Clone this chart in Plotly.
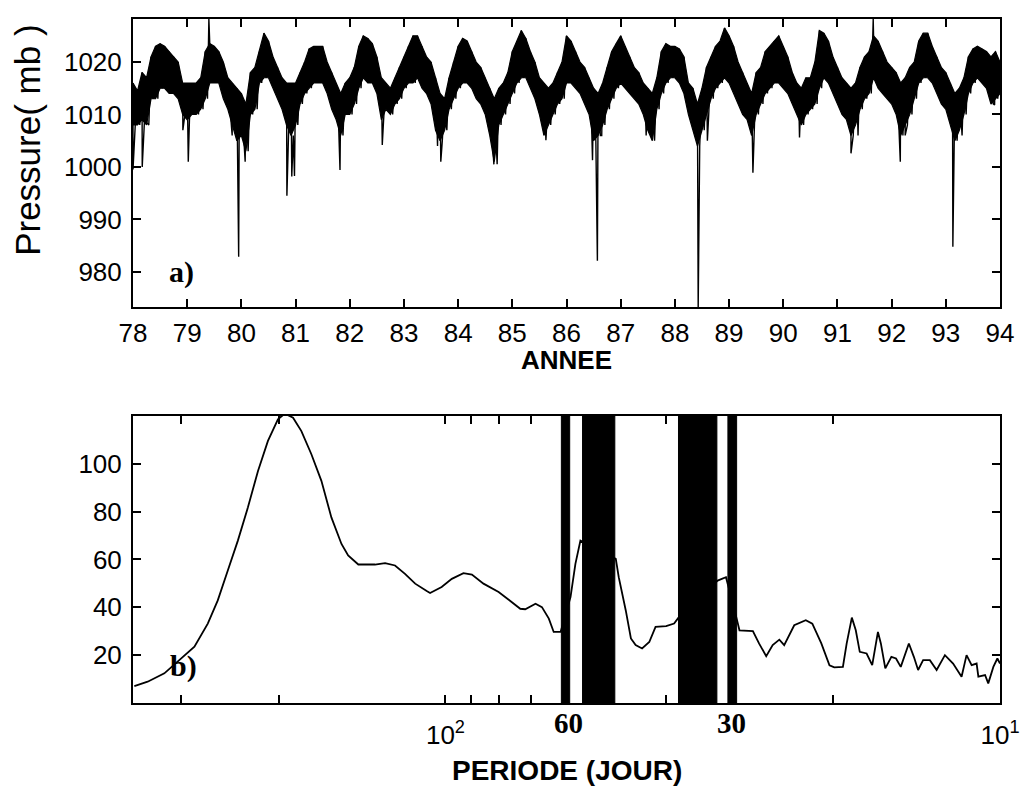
import math
import plotly.graph_objects as go

# ---------------- (a) daily pressure, read as monthly upper / lower envelope (mb) ----------------
upper_78 = [1016, 1014.5, 1018, 1017, 1021, 1023, 1023.5, 1023, 1022, 1021, 1020, 1016]
lower_78 = [1008, 1008, 1009, 1008, 1013, 1013, 1015, 1015, 1014, 1014, 1013, 1010]
upper_79 = [1016, 1016, 1016, 1017, 1022, 1023.5, 1023, 1022, 1020, 1017, 1016, 1015]
lower_79 = [1009, 1010, 1010, 1011, 1013, 1016, 1016, 1016, 1013, 1011, 1008, 1005]
upper_80 = [1014, 1012, 1018, 1019, 1022, 1025.5, 1024, 1021, 1019, 1017, 1016, 1016]
lower_80 = [1006, 1003, 1010, 1011, 1016, 1017, 1017, 1015, 1013, 1011, 1008, 1006]
upper_81 = [1016, 1018, 1020, 1022.5, 1023, 1023, 1023, 1020, 1018, 1016, 1014, 1016]
lower_81 = [1008, 1012, 1014, 1015, 1016, 1016, 1016, 1014, 1011, 1009, 1006, 1010]
upper_82 = [1017, 1019, 1023, 1025, 1024.5, 1023.5, 1021, 1017, 1016, 1015, 1017, 1019]
lower_82 = [1010, 1012, 1015, 1017, 1016, 1016, 1014, 1009, 1011, 1010, 1012, 1013]
upper_83 = [1021, 1023, 1025, 1025, 1023, 1021, 1020, 1017, 1014, 1013, 1017, 1020]
lower_83 = [1015, 1016, 1016, 1017, 1015, 1014, 1012, 1007, 1005, 1007, 1011, 1013]
upper_84 = [1023, 1024.5, 1024, 1022, 1020, 1019, 1017, 1015, 1013, 1015, 1016, 1018]
lower_84 = [1015, 1016, 1016, 1015, 1013, 1012, 1010, 1006, 1001, 1008, 1010, 1012]
upper_85 = [1022, 1024, 1026, 1024.5, 1022, 1020, 1017, 1016, 1015, 1016, 1018, 1020]
lower_85 = [1014, 1016, 1017, 1017, 1015, 1013, 1010, 1006, 1008, 1010, 1012, 1013]
upper_86 = [1025, 1024, 1022, 1020, 1019, 1017, 1015, 1014, 1016, 1019, 1022, 1023.5]
lower_86 = [1016, 1016, 1015, 1014, 1012, 1010, 1005, 1006, 1008, 1011, 1013, 1015]
upper_87 = [1025, 1023, 1021, 1019, 1018, 1016, 1015, 1014, 1017, 1022, 1023.5, 1023]
lower_87 = [1016, 1015, 1014, 1013, 1012, 1010, 1007, 1005, 1011, 1014, 1016, 1017]
upper_88 = [1023, 1022.5, 1021, 1016, 1015, 1012, 1015, 1019, 1021, 1023, 1024, 1026.5]
lower_88 = [1017, 1016, 1014, 1010, 1007, 1004, 1007, 1010, 1013, 1015, 1016, 1017]
upper_89 = [1025, 1023, 1020, 1018, 1016, 1014, 1018, 1019, 1022, 1023, 1024, 1025]
lower_89 = [1016, 1014, 1012, 1010, 1009, 1006, 1010, 1012, 1014, 1015, 1016, 1016]
upper_90 = [1023, 1021, 1018, 1016, 1015, 1017, 1017, 1020, 1026, 1025.5, 1024, 1021]
lower_90 = [1015, 1014, 1012, 1010, 1008, 1010, 1011, 1012, 1015, 1017, 1016, 1014]
upper_91 = [1019, 1017, 1016, 1015, 1016, 1019, 1021, 1022, 1025, 1024, 1022, 1020]
lower_91 = [1012, 1010, 1009, 1006, 1008, 1011, 1013, 1014, 1017, 1015, 1014, 1013]
upper_92 = [1019, 1018, 1016, 1017, 1019, 1020, 1024, 1025.5, 1025.5, 1023, 1021, 1019]
lower_92 = [1012, 1010, 1006, 1008, 1010, 1013, 1016, 1017, 1017, 1016, 1014, 1012]
upper_93 = [1018, 1016, 1014, 1015, 1017, 1021, 1022.5, 1023, 1022.5, 1022, 1021, 1022]
lower_93 = [1011, 1008, 1005, 1007, 1010, 1014, 1016, 1017, 1016, 1015, 1012, 1013]
upper_94 = [1020]
lower_94 = [1014]

# isolated spikes (year, pressure mb)
spike_years = [78.0, 78.17, 78.25, 78.92, 79.02, 79.40, 79.83, 79.95, 80.07, 80.84,
               80.93, 80.98, 81.82, 82.60, 83.62, 83.68, 84.66, 84.72, 85.62, 86.48,
               86.57, 86.65, 87.47, 87.58, 88.43, 88.60, 89.44, 90.30, 91.25, 91.38,
               91.66, 92.16, 92.25, 93.13, 93.30, 93.90]
spike_values = [999.5, 1000, 1008.5, 1007, 1001, 1028.2, 1006, 982.9, 1001, 994.5,
                998.2, 998.3, 999.4, 1004.2, 1004, 1001, 1000.5, 1000.5, 1005.1, 1001.3,
                982.1, 1006, 1006, 1006.2, 973, 1005, 998.9, 1005.6, 1002.6, 1006,
                1028.2, 1001, 1006, 984.8, 1006, 1011.8]

year_ticks = list(range(78, 95))
pressure_ticks = [980, 990, 1000, 1010, 1020]

# ---------------- (b) spectrum vs period (days) ----------------
period_days = [364, 344.4, 321.3, 283.6, 268.3, 257.4, 246.9, 236.8, 227.1, 217.8,
               209.0, 200.5, 194.9, 188.3, 181.9, 174.5, 167.4, 160.6, 154.0, 149.8,
               143.6, 134.0, 128.5, 123.3, 118.3, 113.4, 108.1, 106.6, 101.6, 97.4,
               92.8, 89.6, 85.4, 80.2, 76.9, 73.3, 71.8, 68.8, 67.0, 65.1,
               63.8, 62.0, 59.5, 58.3, 57.1, 49.3, 48.7, 47.3, 46.3, 45.4,
               44.2, 42.9, 41.8, 40.0, 38.7, 38.0, 32.3, 31.2, 29.9, 29.5,
               27.9, 27.2, 26.4, 25.7, 25.0, 24.5, 23.5, 22.4, 21.8, 21.0,
               20.3, 19.9, 19.2, 18.9, 18.5, 18.2, 17.9, 17.4, 17.0, 16.6,
               16.4, 16.1, 15.7, 15.4, 15.1, 14.6, 14.3, 14.05, 13.76, 13.38,
               13.01, 12.57, 12.15, 11.73, 11.49, 11.25, 11.02, 10.94, 10.64, 10.50,
               10.28, 10.11, 10.0]
power = [7.1, 8.9, 12.4, 23.5, 33.2, 42.9, 55.4, 67.9, 81.8, 97,
         109.6, 118.6, 121, 119.3, 113.7, 104, 92.9, 77.6, 66.5, 61.7,
         57.9, 57.9, 58.5, 57.5, 54, 49.9, 46.8, 46, 48.5, 51.9,
         54.3, 53.7, 49.9, 46.4, 43.2, 39.4, 39.2, 41.5, 40.1, 35.3,
         29.7, 29.7, 44.3, 58.2, 67.9, 60.3, 52.6, 38.7, 27, 24.2,
         22.8, 25.5, 31.8, 32.1, 33.2, 35.7, 51.2, 52.6, 36, 30.4,
         30.1, 24.9, 19.6, 24.2, 26.5, 24.2, 32.5, 34.6, 33.2, 24.9,
         15.8, 14.9, 15.1, 24.9, 35.7, 30.4, 21.4, 20.7, 15.8, 29.7,
         24.9, 14.5, 19.3, 18.6, 15.1, 24.9, 19.3, 13.8, 17.9, 17.9,
         13.8, 20, 16.5, 11, 20, 15.8, 16.5, 11, 11.7, 8.2,
         15.1, 18.6, 16.5]

# masked period bands (days)
band_short = [59.7, 49.5, 32.4, 29.85]
band_long = [61.8, 56.6, 38.0, 30.95]

period_ticks = [10, 20, 30, 40, 50, 60, 70, 80, 90, 100, 200, 300]
period_labels = ["10<sup>1</sup>", "", "", "", "", "", "", "", "", "10<sup>2</sup>", "", ""]
power_ticks = [20, 40, 60, 80, 100]
power_range = [0, 120]

# ---------------- build (a) ----------------
upper_all = (upper_78 + upper_79 + upper_80 + upper_81 + upper_82 + upper_83 + upper_84 + upper_85 +
             upper_86 + upper_87 + upper_88 + upper_89 + upper_90 + upper_91 + upper_92 + upper_93 + upper_94)
lower_all = (lower_78 + lower_79 + lower_80 + lower_81 + lower_82 + lower_83 + lower_84 + lower_85 +
             lower_86 + lower_87 + lower_88 + lower_89 + lower_90 + lower_91 + lower_92 + lower_93 + lower_94)
month_t = [78 + i / 12.0 for i in range(len(upper_all))]

pts = []
for t, u, l in zip(month_t, upper_all, lower_all):
    pts.append((t, u))
    if t < 94:
        pts.append((t + 1 / 24.0, l))
for t, v in zip(spike_years, spike_values):
    pts.append((t + 1e-4, v))
pts.sort(key=lambda p: p[0])
tx = [p[0] for p in pts]
py = [p[1] for p in pts]

fig = go.Figure()
# solid envelope band
fig.add_trace(go.Scatter(x=month_t, y=upper_all, mode="lines", line=dict(color="black", width=1.2),
                         xaxis="x", yaxis="y", showlegend=False, hoverinfo="skip"))
fig.add_trace(go.Scatter(x=month_t, y=lower_all, mode="lines", line=dict(color="black", width=1.2),
                         fill="tonexty", fillcolor="black",
                         xaxis="x", yaxis="y", showlegend=False, hoverinfo="skip"))
# jagged daily-like trace with spikes
fig.add_trace(go.Scatter(x=tx, y=py, mode="lines", line=dict(color="black", width=1.4),
                         xaxis="x", yaxis="y", showlegend=False, hoverinfo="skip"))
# spectrum
fig.add_trace(go.Scatter(x=period_days, y=power, mode="lines", line=dict(color="black", width=1.8),
                         xaxis="x2", yaxis="y2", showlegend=False, hoverinfo="skip"))
for a, b in zip(band_short, band_long):
    fig.add_trace(go.Scatter(x=[a, a, b, b, a],
                             y=[power_range[0], power_range[1], power_range[1], power_range[0], power_range[0]],
                             mode="lines", fill="toself", fillcolor="black", line=dict(color="black", width=1),
                             xaxis="x2", yaxis="y2", showlegend=False, hoverinfo="skip"))

SANS = "Liberation Sans, Arial, sans-serif"
SERIF = "Liberation Serif, Times New Roman, serif"
axis_common = dict(showgrid=False, zeroline=False, showline=True, linecolor="black", linewidth=2,
                   mirror="ticks", ticks="inside", ticklen=8, tickwidth=1.5, tickcolor="black",
                   automargin=False,
                   tickfont=dict(family=SANS, size=26, color="black"))

fig.update_layout(
    width=1021, height=789,
    margin=dict(l=133, r=21, t=19, b=86, autoexpand=False),
    paper_bgcolor="white", plot_bgcolor="white",
    xaxis=dict(domain=[0, 1], anchor="y", range=[78, 94], tickvals=year_ticks,
               ticklabelstandoff=2, **axis_common),
    yaxis=dict(domain=[0.5789, 1], anchor="x", range=[973.3, 1028.2], tickvals=pressure_ticks,
               ticklabelstandoff=4, **axis_common),
    xaxis2=dict(domain=[0, 1], anchor="y2", type="log", range=[math.log10(366), 1],
                tickvals=period_ticks, ticktext=period_labels, ticklabelstandoff=8, **axis_common),
    yaxis2=dict(domain=[0, 0.4196], anchor="x2", range=power_range, tickvals=power_ticks,
                ticklabelstandoff=4, **axis_common),
    annotations=[
        dict(text="Pressure( mb )", xref="paper", yref="paper", x=-0.121, y=0.822,
             xanchor="center", yanchor="middle",
             textangle=-90, showarrow=False, font=dict(family=SANS, size=35, color="black")),
        dict(text="<b>ANNEE</b>", xref="paper", yref="paper", x=0.5, y=0.5015,
             xanchor="center", yanchor="middle",
             showarrow=False, font=dict(family=SANS, size=26, color="black")),
        dict(text="<b>PERIODE (JOUR)</b>", xref="paper", yref="paper", x=0.5, y=-0.098,
             xanchor="center", yanchor="middle",
             showarrow=False, font=dict(family=SANS, size=28, color="black")),
        dict(text="<b>a)</b>", xref="paper", yref="paper", x=0.0554, y=0.630,
             xanchor="center", yanchor="middle",
             showarrow=False, font=dict(family=SERIF, size=30, color="black")),
        dict(text="<b>b)</b>", xref="paper", yref="paper", x=0.0577, y=0.054,
             xanchor="center", yanchor="middle",
             showarrow=False, font=dict(family=SERIF, size=30, color="black")),
        dict(text="<b>60</b>", xref="x2", yref="paper", x=math.log10(60), y=-0.0295,
             xanchor="center", yanchor="middle",
             showarrow=False, font=dict(family=SERIF, size=29, color="black")),
        dict(text="<b>30</b>", xref="x2", yref="paper", x=math.log10(30.5), y=-0.0295,
             xanchor="center", yanchor="middle",
             showarrow=False, font=dict(family=SERIF, size=29, color="black")),
    ],
)

# remove the browser's default 8px page margin so the 1021x789 figure fills the window exactly
fig.write_html("out.html", config={"displayModeBar": False},
               post_script="document.body.style.margin='0px';")
